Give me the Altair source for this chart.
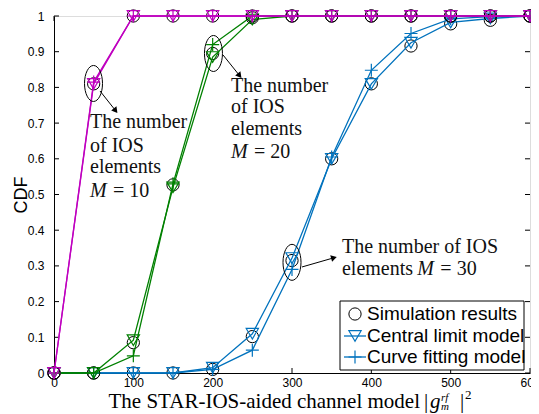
import altair as alt
import pandas as pd

# ---------------- data ----------------
x_vals = [0, 50, 100, 150, 200, 250, 300, 350, 400, 450, 500, 550, 600]

m10_sim = [0, 0.81, 1, 1, 1, 1, 1, 1, 1, 1, 1, 1, 1]
m10_clt = [0, 0.81, 1, 1, 1, 1, 1, 1, 1, 1, 1, 1, 1]
m10_fit = [0, 0.815, 1, 1, 1, 1, 1, 1, 1, 1, 1, 1, 1]

m20_sim = [0, 0, 0.085, 0.527, 0.895, 0.995, 1, 1, 1, 1, 1, 1, 1]
m20_clt = [0, 0, 0.092, 0.52, 0.885, 0.99, 1, 1, 1, 1, 1, 1, 1]
m20_fit = [0, 0, 0.048, 0.53, 0.92, 1.0, 1, 1, 1, 1, 1, 1, 1]

m30_sim = [0, 0, 0, 0, 0.01, 0.102, 0.315, 0.60, 0.81, 0.916, 0.978, 0.988, 1]
m30_clt = [0, 0, 0, 0, 0.015, 0.11, 0.322, 0.60, 0.81, 0.925, 0.982, 0.993, 1]
m30_fit = [0, 0, 0, 0, 0.01, 0.064, 0.29, 0.605, 0.848, 0.951, 0.992, 0.998, 1]

x_ticks = [0, 100, 200, 300, 400, 500, 600]
y_ticks = [0, 0.1, 0.2, 0.3, 0.4, 0.5, 0.6, 0.7, 0.8, 0.9, 1]

legend_labels = ["Simulation results", "Central limit model", "Curve fitting model"]

note_text = ["The number", "of IOS", "elements",
             "The number", "of IOS", "elements",
             "The number of IOS", "elements"]
note_x = [45.4, 45.4, 45.4, 223.1, 223.1, 223.1, 363, 363]
note_y = [0.686, 0.619, 0.560, 0.787, 0.728, 0.667, 0.336, 0.275]

m_x = [45.4, 223.1, 458.0]
m_y = [0.493, 0.602, 0.275]
eq_text = ["= 10", "= 20", "= 30"]
eq_x = [74.4, 252.1, 487.0]

ell_x = [49.8, 201, 300]
ell_y = [0.811, 0.895, 0.31]

arr_x = [58, 213, 312.6]
arr_y = [0.79, 0.891, 0.297]
arr_x2 = [76.9, 233.2, 351.7]
arr_y2 = [0.737, 0.835, 0.322]
arr_angle = [142, 141, 74]

# ---------------- styling ----------------
W, H = 476, 357
SANS = "Liberation Sans"
SERIF = "Liberation Serif"
C_M10 = "#bf00bf"
C_M20 = "#008000"
C_M30 = "#0072bd"
PLUS = "M-1,0L1,0M0,-1L0,1"
ELLIPSE = "M0,-1A0.5,1 0 1,1 0,1A0.5,1 0 1,1 0,-1Z"

xs = alt.Scale(domain=[0, 600], nice=False, zero=False)
ys = alt.Scale(domain=[0, 1], nice=False, zero=False)

x_axis = alt.Axis(values=x_ticks, format="d", labelFont=SANS, labelFontSize=12,
                  labelColor="black", ticks=False, domainColor="black", grid=False,
                  labelPadding=4, labelFlush=False, labelOverlap=False, title=None)
y_axis = alt.Axis(values=y_ticks, format="~g", labelFont=SANS, labelFontSize=12,
                  labelColor="black", ticks=False, domainColor="black", grid=False,
                  labelPadding=10, labelFlush=False, labelOverlap=False,
                  title="CDF", titleFont=SANS, titleFontSize=18, titleFontWeight="normal",
                  titleColor="black", titlePadding=-3)


def X(f):
    return alt.X(f, type="quantitative", scale=xs, axis=x_axis)


def Y(f):
    return alt.Y(f, type="quantitative", scale=ys, axis=y_axis)


layers = []

# inward ticks on all four sides
xt = pd.DataFrame({"v": x_ticks})
yt = pd.DataFrame({"v": y_ticks})
layers.append(alt.Chart(yt).mark_rule(color="black", strokeWidth=1).encode(
    y=Y("v"), x=alt.value(0), x2=alt.value(5)))
layers.append(alt.Chart(yt).mark_rule(color="black", strokeWidth=1).encode(
    y=Y("v"), x=alt.value(W - 5), x2=alt.value(W)))
layers.append(alt.Chart(xt).mark_rule(color="black", strokeWidth=1).encode(
    x=X("v"), y=alt.value(H - 5), y2=alt.value(H)))
layers.append(alt.Chart(xt).mark_rule(color="black", strokeWidth=1).encode(
    x=X("v"), y=alt.value(0), y2=alt.value(5)))


def group(sim, clt, fit, color):
    out = []
    d_sim = pd.DataFrame({"x": x_vals, "y": sim})
    d_clt = pd.DataFrame({"x": x_vals, "y": clt})
    d_fit = pd.DataFrame({"x": x_vals, "y": fit})
    out.append(alt.Chart(d_sim).mark_point(shape="circle", size=150, filled=False,
                                           color="black", strokeWidth=1, opacity=1)
               .encode(x=X("x"), y=Y("y")))
    out.append(alt.Chart(d_clt).mark_line(color=color, strokeWidth=1.3).encode(x=X("x"), y=Y("y")))
    out.append(alt.Chart(d_clt).mark_point(shape="triangle-down", size=150, filled=False,
                                           color=color, strokeWidth=1.2, opacity=1)
               .encode(x=X("x"), y=Y("y")))
    out.append(alt.Chart(d_fit).mark_line(color=color, strokeWidth=1.3).encode(x=X("x"), y=Y("y")))
    out.append(alt.Chart(d_fit).mark_point(shape=PLUS, size=169, filled=False,
                                           color=color, strokeWidth=1.2, opacity=1)
               .encode(x=X("x"), y=Y("y")))
    return out


layers += group(m30_sim, m30_clt, m30_fit, C_M30)
layers += group(m20_sim, m20_clt, m20_fit, C_M20)
layers += group(m10_sim, m10_clt, m10_fit, C_M10)

# annotations: ellipses, arrows, text
ell = pd.DataFrame({"x": ell_x, "y": ell_y})
layers.append(alt.Chart(ell).mark_point(shape=ELLIPSE, size=1296, filled=False, color="black",
                                        strokeWidth=1, opacity=1).encode(x=X("x"), y=Y("y")))
arr = pd.DataFrame({"x": arr_x, "y": arr_y, "x2": arr_x2, "y2": arr_y2, "a": arr_angle})
layers.append(alt.Chart(arr).mark_rule(color="black", strokeWidth=1).encode(
    x=X("x"), y=Y("y"), x2="x2:Q", y2="y2:Q"))
layers.append(alt.Chart(arr).mark_point(shape="triangle", size=45, filled=True, color="black",
                                        opacity=1).encode(
    x=X("x2"), y=Y("y2"), angle=alt.Angle("a:Q", scale=None)))

notes = pd.DataFrame({"x": note_x, "y": note_y, "t": note_text})
layers.append(alt.Chart(notes).mark_text(font=SERIF, fontSize=20, align="left",
                                         baseline="alphabetic", color="#111").encode(
    x=X("x"), y=Y("y"), text="t:N"))
mdf = pd.DataFrame({"x": m_x, "y": m_y, "t": ["M", "M", "M"]})
layers.append(alt.Chart(mdf).mark_text(font=SERIF, fontSize=20, fontStyle="italic", align="left",
                                       baseline="alphabetic", color="#111").encode(
    x=X("x"), y=Y("y"), text="t:N"))
eqdf = pd.DataFrame({"x": eq_x, "y": m_y, "t": eq_text})
layers.append(alt.Chart(eqdf).mark_text(font=SERIF, fontSize=20, align="left",
                                        baseline="alphabetic", color="#111").encode(
    x=X("x"), y=Y("y"), text="t:N"))

# legend (drawn by hand, MATLAB style), placed relative to the plot's lower edge
LX0, LX1, LY0, LY1 = 286, 470, H - 72, H - 3
layers.append(alt.Chart(pd.DataFrame({"a": [0]})).mark_rect(fill="white", stroke="black",
                                                              strokeWidth=1).encode(
    x=alt.value(LX0), x2=alt.value(LX1), y=alt.value(LY0), y2=alt.value(LY1)))
row_y = [H - 59, H - 37, H - 16]
sym_x = 301
for i, lab in enumerate(legend_labels):
    one = pd.DataFrame({"t": [lab]})
    layers.append(alt.Chart(one).mark_text(font=SANS, fontSize=19, align="left",
                                           baseline="middle", color="black").encode(
        x=alt.value(313), y=alt.value(row_y[i]), text="t:N"))
    if i == 0:
        layers.append(alt.Chart(one).mark_point(shape="circle", size=150, filled=False,
                                                color="black", strokeWidth=1, opacity=1).encode(
            x=alt.value(sym_x), y=alt.value(row_y[i])))
    else:
        layers.append(alt.Chart(one).mark_rule(color=C_M30, strokeWidth=1.3).encode(
            x=alt.value(290), x2=alt.value(312), y=alt.value(row_y[i])))
        layers.append(alt.Chart(one).mark_point(shape="triangle-down" if i == 1 else PLUS,
                                                size=150 if i == 1 else 169, filled=False,
                                                color=C_M30, strokeWidth=1.2, opacity=1).encode(
            x=alt.value(sym_x), y=alt.value(row_y[i])))

# x-axis title with math part
TY = H + 35


def tx(txt, xpx, ypx, size=21, italic=False, align="left"):
    kw = dict(font=SERIF, fontSize=size, align=align, baseline="alphabetic", color="black")
    if italic:
        kw["fontStyle"] = "italic"
    return alt.Chart(pd.DataFrame({"t": [txt]})).mark_text(**kw).encode(
        x=alt.value(xpx), y=alt.value(ypx), text="t:N")


layers.append(tx("The STAR-IOS-aided channel model", 366, TY, align="right"))
layers.append(tx("|", 370, TY))
layers.append(tx("g", 376, TY, italic=True))
layers.append(tx("rf", 387, TY - 7, size=11, italic=True))
layers.append(tx("m", 387, TY + 2, size=11, italic=True))
layers.append(tx("|", 406, TY))
layers.append(tx("2", 411, TY - 9, size=13))

chart = alt.layer(*layers).properties(
    width=W, height=H,
    autosize=alt.AutoSizeParams(type="none"),
    padding={"left": 46, "top": 8, "right": 1, "bottom": 40},
).configure_view(stroke="black", strokeWidth=1).configure(background="white")

chart.save("out.html", embed_options={"renderer": "svg", "actions": False})
